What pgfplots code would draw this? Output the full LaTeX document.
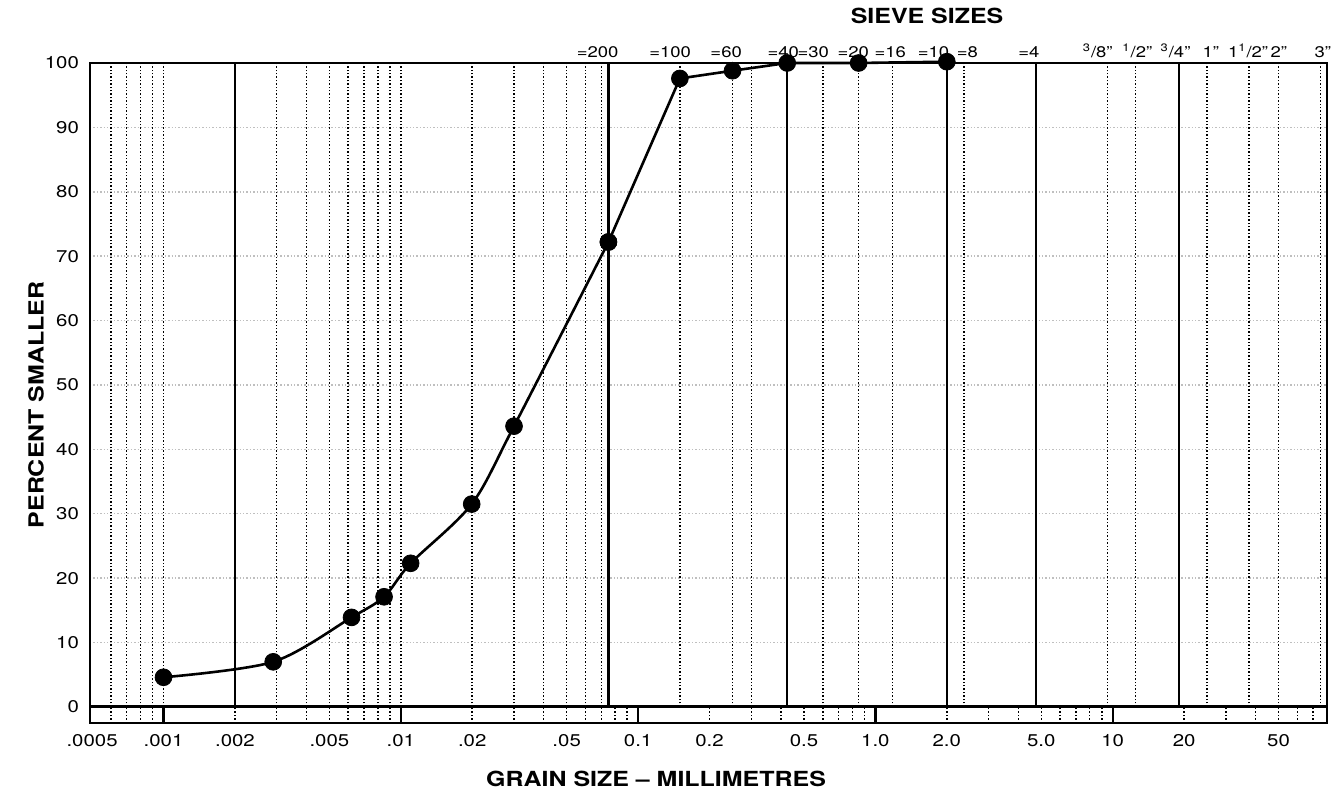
\documentclass[border=0pt]{standalone}
\usepackage{fontspec}
\setmainfont{TeX Gyre Heros}[FakeStretch=1.2]
\usepackage{pgfplots}
\usepackage{pgfplotstable}
\pgfplotsset{compat=1.18}
\pgfplotstableread{
x y
0.001 4.6
0.0029 7.0
0.0062 13.9
0.0085 17.1
0.011 22.3
0.0199 31.5
0.030 43.6
0.075 72.2
}\hydro
\pgfplotstableread{
x y
0.075 72.2
0.15 97.6
0.25 98.8
0.425 100
0.85 100
2.0 100.2
}\sieve
\tikzset{gdot/.style={line width=0.75pt, dash pattern=on 0.7pt off 1.0pt}}
\begin{document}
\begin{tikzpicture}
\useasboundingbox (-45pt,-34pt) rectangle (624.5pt,361.5pt);
\begin{axis}[
  at={(0,0)}, anchor=south west,
  scale only axis, width=618.5pt, height=330pt,
  xmode=log, xmin=0.00049, xmax=80, ymin=-2.5, ymax=100,
  axis line style={line width=1.4pt},
  xtick={0.0005,0.001,0.002,0.005,0.01,0.02,0.05,0.1,0.2,0.5,1,2,5,10,20,50},
  xticklabels={.0005,.001,.002,.005,.01,.02,.05,0.1,0.2,0.5,1.0,2.0,5.0,10,20,50},
  ytick={0,10,...,100},
  major tick length=0pt, minor tick length=0pt,
  ticklabel style={font=\fontsize{8.5}{10}\selectfont},
  /pgf/number format/assume math mode=true,
  yticklabel style={xshift=-2pt},
  xticklabel style={yshift=-2pt},
  ymajorgrids=true,
  major grid style={gdot},
  xlabel={GRAIN SIZE -- MILLIMETRES},
  xlabel style={at={(axis description cs:0.4576,-0.0848)}, anchor=center, font=\fontsize{10.4}{12}\selectfont\bfseries},
  ylabel={PERCENT SMALLER},
  ylabel style={at={(axis description cs:-0.0437,0.482)}, anchor=center, font=\fontsize{10.4}{12}\selectfont\bfseries},
  clip=false,
]
% strip between -2.5 and 0
\pgfplotsinvokeforeach{0.0006,0.0007,0.0008,0.0009,0.002,0.003,0.004,0.005,0.006,0.007,0.008,0.009,0.02,0.03,0.04,0.05,0.06,0.07,0.08,0.09,0.2,0.3,0.4,0.5,0.6,0.7,0.8,0.9,2,3,4,5,6,7,8,9,20,30,40,50,60,70}{
  \draw[gdot] (axis cs:#1,-2.5) -- (axis cs:#1,0);
}
\pgfplotsinvokeforeach{0.001,0.01,0.1,1,10}{
  \draw[line width=1.1pt] (axis cs:#1,-2.5) -- (axis cs:#1,0);
}
% upper area
\pgfplotsinvokeforeach{0.0006,0.0007,0.0008,0.0009,0.001,0.003,0.004,0.005,0.006,0.007,0.008,0.009,0.01,0.02,0.03,0.04,0.05,0.06,0.07,0.15,0.25,0.3,0.6,0.85,1.18,2.36,9.5,12.5,25,37.5,50,75}{
  \draw[gdot] (axis cs:#1,0) -- (axis cs:#1,100);
}
\pgfplotsinvokeforeach{0.002,0.075,0.425,2,4.75,19}{
  \draw[line width=1.1pt] (axis cs:#1,0) -- (axis cs:#1,100);
}
\draw[line width=1.4pt] (axis cs:0.00049,0) -- (axis cs:80,0);
\addplot[black, line width=1.3pt, smooth, mark=none] table {\hydro};
\addplot[black, line width=1.3pt, mark=none] table {\sieve};
\addplot[black, only marks, mark=*, mark size=4.2pt] table {\hydro};
\addplot[black, only marks, mark=*, mark size=4.2pt] table {\sieve};
\end{axis}
\begin{axis}[
  at={(0,0)}, anchor=south west,
  scale only axis, width=618.5pt, height=330pt,
  xmode=log, xmin=0.00049, xmax=80, ymin=-2.5, ymax=100,
  axis x line*=top, axis y line=none,
  axis line style={draw=none},
  major tick length=0pt, minor tick length=0pt,
  xtick={0.0675,0.1364,0.235,0.409,0.547,0.807,1.156,1.757,2.44,4.43,8.65,12.7,18.4,25.9,37.2,50.1,76.9},
  xticklabels={=200,=100,=60,=40,=30,=20,=16,=10,=8,=4,{\textsuperscript{3}/8''},{\textsuperscript{1}/2''},{\textsuperscript{3}/4''},{1''},{1\textsuperscript{1}/2''},{2''},{3''}},
  xticklabel style={font=\fontsize{7.7}{9}\selectfont, yshift=-1pt},
  every axis title shift=0pt,
  title={SIEVE SIZES},
  title style={at={(axis description cs:0.6767,1.071)}, anchor=center, font=\fontsize{10.4}{12}\selectfont\bfseries},
]
\end{axis}
\end{tikzpicture}
\end{document}
